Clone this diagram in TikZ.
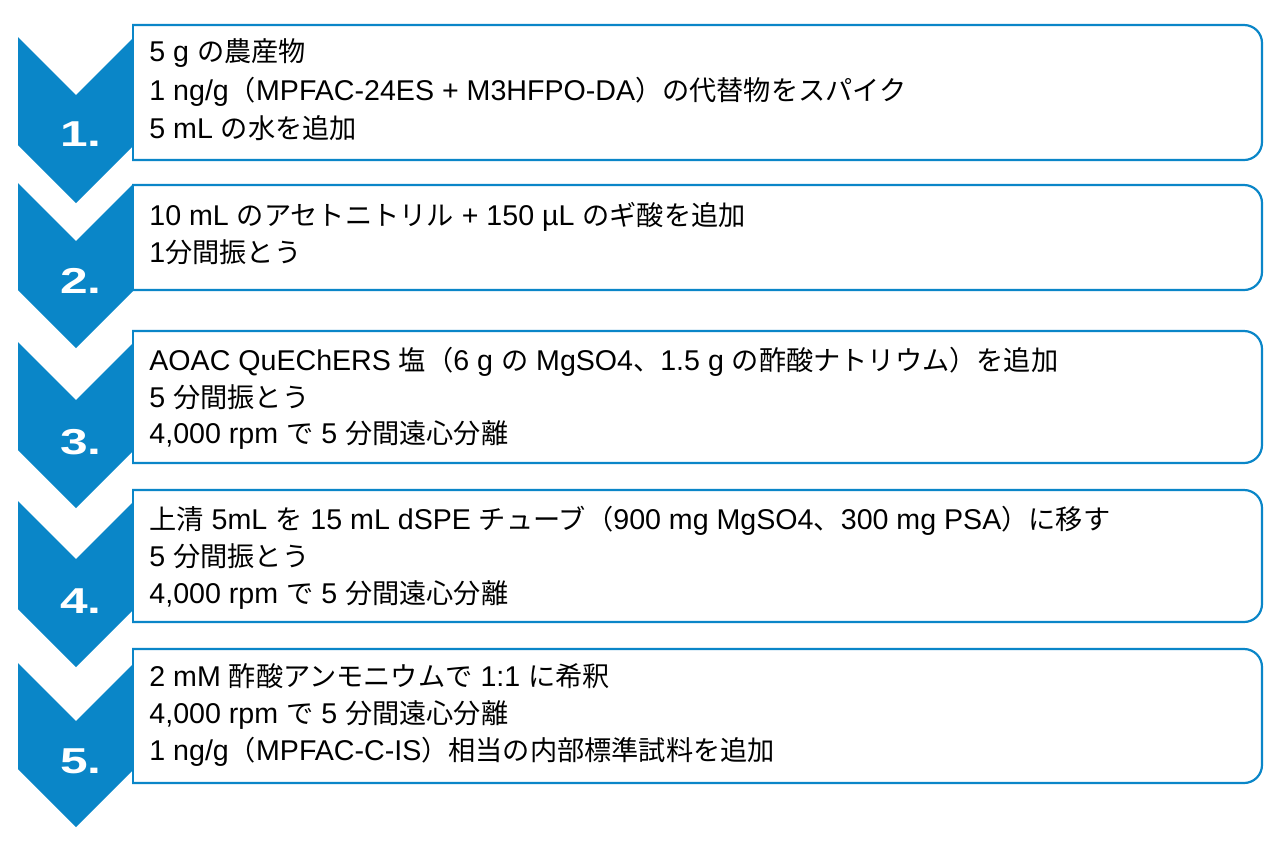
\documentclass[tikz,border=0pt]{standalone}
\usepackage{graphicx}
\usepackage{fontspec}
\setmainfont{Liberation Sans}
\newfontfamily\jp{Noto Sans CJK JP}
\newcommand\J[1]{{\jp\fontsize{13.6}{16}\selectfont #1}}
\definecolor{qblue}{HTML}{0A86C8}
\begin{document}
\begin{tikzpicture}[x=0.5pt,y=-0.5pt,
  boxline/.style={draw=qblue,line width=1.1pt,fill=white,rounded corners=9pt},
  edgeline/.style={draw=qblue,line width=1.1pt,line cap=rect},
  txt/.style={anchor=base west,inner sep=0pt,font=\fontsize{14.3}{16}\selectfont,text=black},
  num/.style={anchor=base,inner sep=0pt,font=\fontsize{18}{20}\selectfont\bfseries,text=white}]
\useasboundingbox[fill=white] (0,0) rectangle (1280,853);

\foreach \T/\P in {37/203,183/348,342/508,501/667,663/827}{
  \fill[qblue] (18,\T) -- (76,\T+58) -- (133,\T+1) -- (133,\P-57) -- (76,\P) -- (18,\P-58) -- cycle;
}

\foreach \t/\b in {25/160,185/290,331/463,490/622,649/783}{
  \begin{scope}
    \clip (132,\t-10) rectangle (1280,\b+10);
    \draw[boxline] (100,\t) rectangle (1262,\b);
  \end{scope}
  \draw[edgeline] (133,\t) -- (133,\b);
}

\node[num] (n1) at (81,146) {\scalebox{1.38}[1]{1.}};
\node[num] (n2) at (81,293) {\scalebox{1.38}[1]{2.}};
\node[num] (n3) at (81,454) {\scalebox{1.38}[1]{3.}};
\node[num] (n4) at (81,613) {\scalebox{1.38}[1]{4.}};
\node[num] (n5) at (81,773) {\scalebox{1.38}[1]{5.}};

\node[txt] (t11) at (149,61) {5 g \J{の農産物}};
\node[txt] (t12) at (149,100) {1 ng/g\J{（}MPFAC-24ES + M3HFPO-DA\J{）の代替物をスパイク}};
\node[txt] (t13) at (149,138) {5 mL \J{の水を追加}};

\node[txt] (t21) at (149,225) {10 mL \J{のアセトニトリル} + 150 µL \J{のギ酸を追加}};
\node[txt] (t22) at (149,262) {1\J{分間振とう}};

\node[txt] (t31) at (149,370) {AOAC QuEChERS \J{塩（}6 g \J{の} MgSO4\J{、}1.5 g \J{の酢酸ナトリウム）を追加}};
\node[txt] (t32) at (149,407) {5 \J{分間振とう}};
\node[txt] (t33) at (149,443) {4,000 rpm \J{で} 5 \J{分間遠心分離}};

\node[txt] (t41) at (149,529) {\J{上清} 5mL \J{を} 15 mL dSPE \J{チューブ（}900 mg MgSO4\J{、}300 mg PSA\J{）に移す}};
\node[txt] (t42) at (149,566) {5 \J{分間振とう}};
\node[txt] (t43) at (149,603) {4,000 rpm \J{で} 5 \J{分間遠心分離}};

\node[txt] (t51) at (149,686) {2 mM \J{酢酸アンモニウムで} 1:1 \J{に希釈}};
\node[txt] (t52) at (149,723) {4,000 rpm \J{で} 5 \J{分間遠心分離}};
\node[txt] (t53) at (149,760) {1 ng/g\J{（}MPFAC-C-IS\J{）相当の内部標準試料を追加}};
\end{tikzpicture}
\end{document}
